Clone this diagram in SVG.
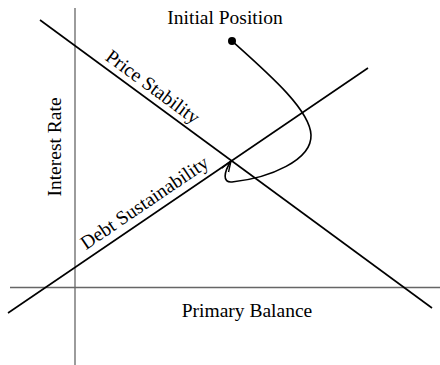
<svg xmlns="http://www.w3.org/2000/svg" width="440" height="365" viewBox="0 0 440 365">
<style>
text{font-family:"Liberation Serif","Times New Roman",serif;font-size:19.5px;fill:#000}
.axis{stroke:#666;stroke-width:1.3;fill:none}
.curve{stroke:#000;stroke-width:1.6;fill:none}
</style>
<defs>
<marker id="arr" viewBox="0 0 12 10" refX="11" refY="5" markerWidth="12" markerHeight="10" markerUnits="userSpaceOnUse" orient="auto">
<path d="M0,1 L11,5 L0,9" fill="none" stroke="#000" stroke-width="1.4"/>
</marker>
</defs>
<g id="axes">
<line class="axis" x1="75" y1="8" x2="75" y2="365"/>
<line class="axis" x1="10" y1="287.5" x2="440" y2="287.5"/>
</g>
<g id="connectors">
<line class="curve" x1="40" y1="20" x2="432" y2="308"/>
<line class="curve" x1="8" y1="313" x2="368" y2="68"/>
<path class="curve" d="M232,41 C270,75 310,110 311,135 C312,160 270,178 232,182 C222,183 224,172 231,161" marker-end="url(#arr)"/>
</g>
<g id="initial">
<circle cx="232" cy="41" r="4" fill="#000"/>
<text x="225" y="24" text-anchor="middle">Initial Position</text>
</g>
<g id="labels">
<text x="247" y="317" text-anchor="middle">Primary Balance</text>
<text transform="translate(61,147) rotate(-90)" text-anchor="middle">Interest Rate</text>
<text transform="translate(149,92) rotate(36.3)" text-anchor="middle">Price Stability</text>
<text transform="translate(148,208) rotate(-34.2)" text-anchor="middle">Debt Sustainability</text>
</g>
</svg>
